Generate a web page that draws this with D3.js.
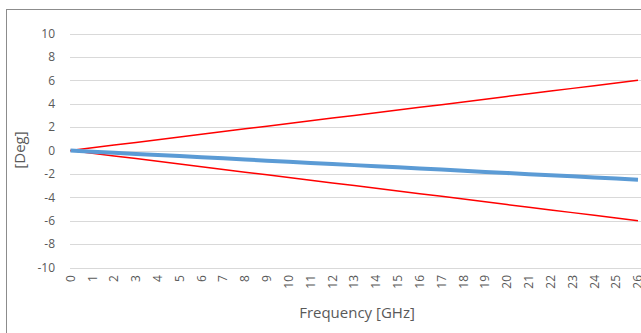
<!DOCTYPE html>
<html>
<head>
<meta charset="utf-8">
<script src="https://cdn.jsdelivr.net/npm/d3@7"></script>
<style>
  body { margin: 0; background: #fff; }
  text { font-family: "Open Sans", "Liberation Sans", sans-serif; fill: #595959; }
</style>
</head>
<body>
<div id="chart"></div>
<script>
// data
var freq = [0, 1, 2, 3, 4, 5, 6, 7, 8, 9, 10, 11, 12, 13, 14, 15, 16, 17, 18, 19, 20, 21, 22, 23, 24, 25, 26];
var upperLimit = [0, 0.23, 0.46, 0.69, 0.92, 1.15, 1.38, 1.62, 1.85, 2.08, 2.31, 2.54, 2.77, 3.00, 3.23, 3.46, 3.69, 3.92, 4.15, 4.38, 4.62, 4.85, 5.08, 5.31, 5.54, 5.77, 6.00];
var lowerLimit = [0, -0.23, -0.46, -0.69, -0.92, -1.15, -1.38, -1.62, -1.85, -2.08, -2.31, -2.54, -2.77, -3.00, -3.23, -3.46, -3.69, -3.92, -4.15, -4.38, -4.62, -4.85, -5.08, -5.31, -5.54, -5.77, -6.00];
var phase = [0, -0.10, -0.19, -0.29, -0.38, -0.48, -0.58, -0.67, -0.77, -0.87, -0.96, -1.06, -1.15, -1.25, -1.35, -1.44, -1.54, -1.63, -1.73, -1.83, -1.92, -2.02, -2.12, -2.21, -2.31, -2.40, -2.50];
var yTicks = [-10, -8, -6, -4, -2, 0, 2, 4, 6, 8, 10];

var W = 641, H = 333;
var margin = {left: 70.5, right: 638, top: 33.5, bottom: 267.5};

var svg = d3.select("#chart").append("svg")
    .attr("width", W)
    .attr("height", H);

// chart area border
svg.append("rect")
    .attr("x", 6.5).attr("y", 9.5)
    .attr("width", W).attr("height", H)
    .attr("fill", "none")
    .attr("stroke", "#8c8c8c");

var x = d3.scalePoint()
    .domain(freq)
    .range([margin.left, margin.right]);
var y = d3.scaleLinear()
    .domain([-10, 10])
    .range([margin.bottom, margin.top]);

// gridlines
svg.append("g").selectAll("line")
    .data(yTicks)
  .enter().append("line")
    .attr("x1", margin.left - 0.5)
    .attr("x2", W)
    .attr("y1", d => Math.round(y(d)) + 0.5)
    .attr("y2", d => Math.round(y(d)) + 0.5)
    .attr("stroke", "#d9d9d9")
    .attr("stroke-width", 1);

// y tick labels
svg.append("g").selectAll("text")
    .data(yTicks)
  .enter().append("text")
    .attr("x", 55)
    .attr("y", d => y(d))
    .attr("dy", "0.35em")
    .attr("text-anchor", "end")
    .attr("font-size", 12)
    .text(d => d);

// x tick labels, rotated
svg.append("g").selectAll("text")
    .data(freq)
  .enter().append("text")
    .attr("transform", d => "translate(" + x(d) + ",275) rotate(-90)")
    .attr("dy", "0.35em")
    .attr("text-anchor", "end")
    .attr("font-size", 12)
    .text(d => d);

// axis titles
svg.append("text")
    .attr("x", 357)
    .attr("y", 318)
    .attr("text-anchor", "middle")
    .attr("font-size", 15)
    .text("Frequency [GHz]");

svg.append("text")
    .attr("transform", "translate(25,150) rotate(-90)")
    .attr("text-anchor", "middle")
    .attr("font-size", 15)
    .text("[Deg]");

var line = d3.line()
    .x((d, i) => x(freq[i]))
    .y(d => y(d));

svg.append("path")
    .datum(upperLimit)
    .attr("d", line)
    .attr("fill", "none")
    .attr("stroke", "#ff0000")
    .attr("stroke-width", 1.5);

svg.append("path")
    .datum(lowerLimit)
    .attr("d", line)
    .attr("fill", "none")
    .attr("stroke", "#ff0000")
    .attr("stroke-width", 1.5);

svg.append("path")
    .datum(phase)
    .attr("d", line)
    .attr("fill", "none")
    .attr("stroke", "#5b9bd5")
    .attr("stroke-width", 4);
</script>
</body>
</html>
